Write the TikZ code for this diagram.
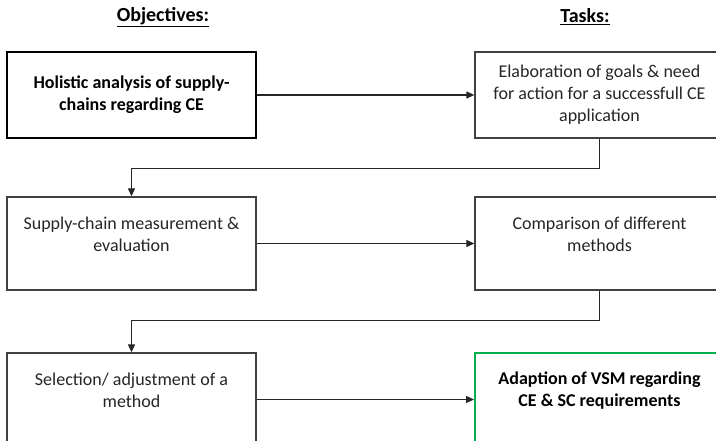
\documentclass[tikz,border=0pt]{standalone}
\usepackage{fontspec}
\setmainfont{Carlito}
\usetikzlibrary{arrows.meta}
\definecolor{framegray}{HTML}{404040}
\definecolor{textgray}{HTML}{262626}
\definecolor{okgreen}{HTML}{00B050}
\begin{document}
\begin{tikzpicture}[x=1pt,y=-1pt,
  every node/.style={inner sep=0pt},
  stepbox/.style={draw=framegray, line width=1.3pt, minimum width=249pt, fill=white},
  firstbox/.style={stepbox, draw=black, line width=2pt},
  goalbox/.style={stepbox, draw=okgreen, line width=2pt},
  rowone/.style={minimum height=86pt},
  rowtwo/.style={minimum height=93pt},
  boxtext/.style={align=center, text=textgray, font=\fontsize{18}{22}\selectfont},
  boldtext/.style={boxtext, text=black, font=\fontsize{18}{22}\selectfont\bfseries},
  header/.style={text=black, font=\fontsize{20}{24}\selectfont\bfseries},
  flow/.style={draw=black!85, line width=1.2pt, -{Triangle[length=8pt,width=7pt]}}
]
\clip (0,0) rectangle (716,440);
\useasboundingbox (0,0) rectangle (716,440);

% column headers
\node[header] (hobj) at (163,17) {\underline{Objectives:}};
\node[header] (htask) at (585,17) {\underline{Tasks:}};

% row 1
\node[firstbox, rowone] (b1) at (131.5,95) {};
\node[stepbox, rowone] (b2) at (599.5,95) {};
\node[boldtext] (t1) at (b1.center) {Holistic analysis of supply-\\chains regarding CE};
\node[boxtext] (t2) at (b2.center) {Elaboration of goals \& need\\for action for a successfull CE\\application};

% row 2
\node[stepbox, rowtwo] (b3) at (131.5,243.5) {};
\node[stepbox, rowtwo] (b4) at (599.5,243.5) {};
\node[boxtext] (t3) at ([yshift=9pt]b3.center) {Supply-chain measurement \&\\evaluation};
\node[boxtext] (t4) at ([yshift=9pt]b4.center) {Comparison of different\\methods};

% row 3
\node[stepbox, rowtwo] (b5) at (131.5,399.5) {};
\node[goalbox, rowtwo] (b6) at (599.5,399.5) {};
\node[boxtext] (t5) at ([yshift=9pt]b5.center) {Selection/ adjustment of a\\method};
\node[boldtext] (t6) at ([yshift=9pt]b6.center) {Adaption of VSM regarding\\CE \& SC requirements};

% connectors
\draw[flow] (b1.east) -- (b2.west);
\draw[flow] (b2.south) -- ++(0,30) -| (b3.north);
\draw[flow] (b3.east) -- (b4.west);
\draw[flow] (b4.south) -- ++(0,30) -| (b5.north);
\draw[flow] (b5.east) -- (b6.west);
\end{tikzpicture}
\end{document}
